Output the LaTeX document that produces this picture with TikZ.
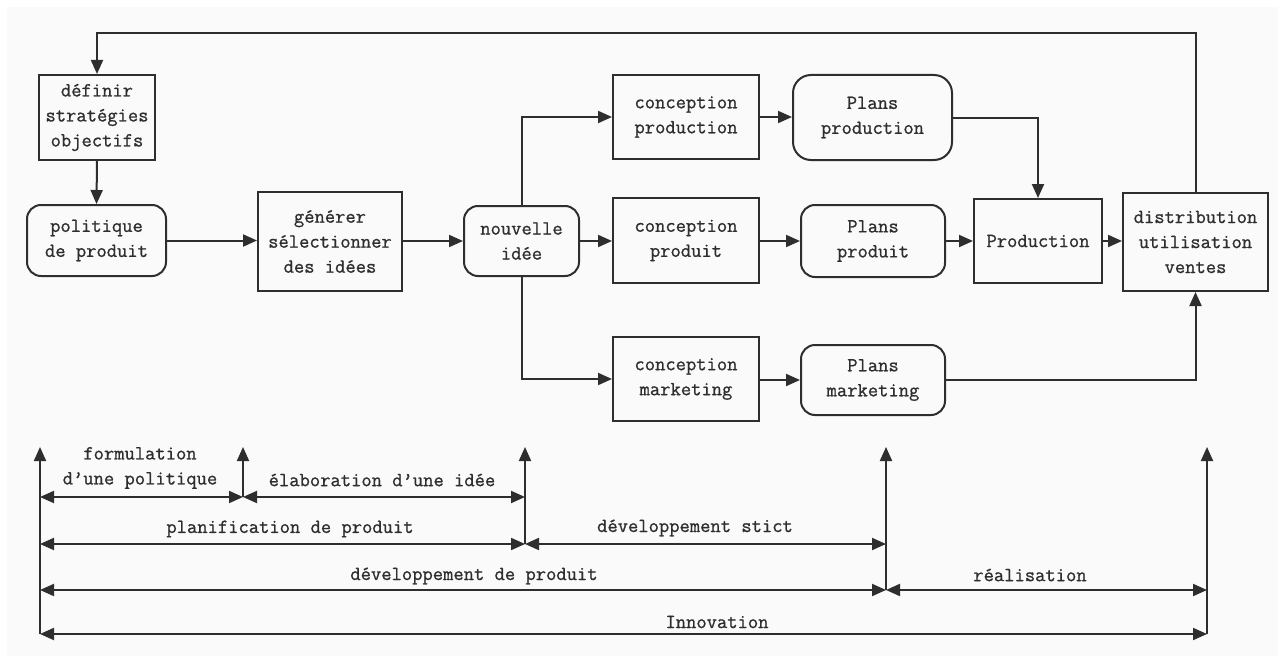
\documentclass[tikz,border=0pt]{standalone}
\usepackage{fontspec}
\newfontfamily\cour{Latin Modern Mono}[FakeBold=0.9]
\usetikzlibrary{arrows.meta}
\definecolor{ink}{HTML}{2E2E2E}
\definecolor{bg}{HTML}{FAFAFA}
\tikzset{
  box/.style={draw=ink, line width=2pt, inner sep=0pt, align=center, text=ink,
    font=\cour\fontsize{20}{25}\selectfont},
  rbox/.style={box, rounded corners=14pt},
  arr/.style={draw=ink, line width=2pt, -{Triangle[length=14pt,width=12pt]}},
  dbl/.style={draw=ink, line width=2pt, {Triangle[length=14pt,width=12pt]}-{Triangle[length=14pt,width=12pt]}},
  lbl/.style={text=ink, inner sep=0pt, font=\cour\fontsize{20}{25}\selectfont, align=center}
}
\begin{document}
\begin{tikzpicture}[x=1pt,y=-1pt]
\useasboundingbox (0,0) rectangle (1282,661);
\fill[bg] (7,7) rectangle (1278,656);

% boxes
\node[box, minimum width=116pt, minimum height=85pt] (def) at (97,117.5) {définir\\stratégies\\objectifs};
\node[rbox, minimum width=139pt, minimum height=71pt] (pol) at (96.5,240.5) {politique\\de produit};
\node[box, minimum width=144pt, minimum height=99pt] (gen) at (330,241.5) {générer\\sélectionner\\des idées};
\node[rbox, minimum width=115pt, minimum height=70pt] (idee) at (521.5,241) {nouvelle\\idée};
\node[box, minimum width=146pt, minimum height=84pt] (cpn) at (686,117) {conception\\production};
\node[box, minimum width=146pt, minimum height=85pt] (cpt) at (686,240.5) {conception\\produit};
\node[box, minimum width=146pt, minimum height=84pt] (cmk) at (686,379) {conception\\marketing};
\node[rbox, rounded corners=18pt, minimum width=159pt, minimum height=85pt] (ppn) at (872.5,117.5) {Plans\\production};
\node[rbox, minimum width=144pt, minimum height=72pt] (ppt) at (873,241) {Plans\\produit};
\node[rbox, minimum width=144pt, minimum height=70pt] (pmk) at (873,380) {Plans\\marketing};
\node[box, minimum width=128pt, minimum height=84pt] (prod) at (1038,241) {Production};
\node[box, minimum width=145pt, minimum height=98pt] (dist) at (1195.5,242) {distribution\\utilisation\\ventes};

% connectors
\coordinate (fbR) at (1195.5,33);
\coordinate (fbL) at (97,33);
\draw[arr] (dist.north) -- (fbR) -- (fbL) -- (def.north);
\draw[arr] (def.south) -- (pol.north);
\draw[arr] (pol.east) -- (gen.west |- pol.east);
\draw[arr] (gen.east |- idee.west) -- (idee.west);
\draw[arr] (idee.north) |- (cpn.west);
\draw[arr] (idee.east) -- (cpt.west |- idee.east);
\draw[arr] (idee.south) |- (cmk.west);
\draw[arr] (cpn.east) -- (ppn.west |- cpn.east);
\draw[arr] (cpt.east |- ppt.west) -- (ppt.west);
\draw[arr] (cmk.east |- pmk.west) -- (pmk.west);
\draw[arr] (ppn.east) -| (prod.north);
\draw[arr] (ppt.east) -- (prod.west);
\draw[arr] (prod.east) -- (dist.west |- prod.east);
\draw[arr] (pmk.east) -| (dist.south);

% timeline
\coordinate (a0) at (40,634);   \coordinate (aT) at (40,447);
\coordinate (b0) at (243,497);  \coordinate (bT) at (243,447);
\coordinate (c0) at (525,544);  \coordinate (cT) at (525,447);
\coordinate (d0) at (886,590);  \coordinate (dT) at (886,447);
\coordinate (e0) at (1207,634); \coordinate (eT) at (1207,447);
\draw[arr] (a0) -- (aT);
\draw[arr] (b0) -- (bT);
\draw[arr] (c0) -- (cT);
\draw[arr] (d0) -- (dT);
\draw[arr] (e0) -- (eT);

\coordinate (r1a) at (40,497);  \coordinate (r1b) at (243,497); \coordinate (r1c) at (525,497);
\coordinate (r2a) at (40,544);  \coordinate (r2c) at (525,544); \coordinate (r2d) at (886,544);
\coordinate (r3a) at (40,590);  \coordinate (r3d) at (886,590); \coordinate (r3e) at (1207,590);
\coordinate (r4a) at (40,634);  \coordinate (r4e) at (1207,634);
\draw[dbl] (r1a) -- (r1b);
\draw[dbl] (r1b) -- (r1c);
\draw[dbl] (r2a) -- (r2c);
\draw[dbl] (r2c) -- (r2d);
\draw[dbl] (r3a) -- (r3d);
\draw[dbl] (r3d) -- (r3e);
\draw[dbl] (r4a) -- (r4e);

\node[lbl] (l1) at (140,468) {formulation\\d’une politique};
\node[lbl] (l2) at (382,480) {élaboration d’une idée};
\node[lbl] (l3) at (290,529) {planification de produit};
\node[lbl] (l4) at (695,528) {développement stict};
\node[lbl] (l5) at (474,576) {développement de produit};
\node[lbl] (l6) at (1030,575) {réalisation};
\node[lbl] (l7) at (717,622) {Innovation};
\end{tikzpicture}
\end{document}
